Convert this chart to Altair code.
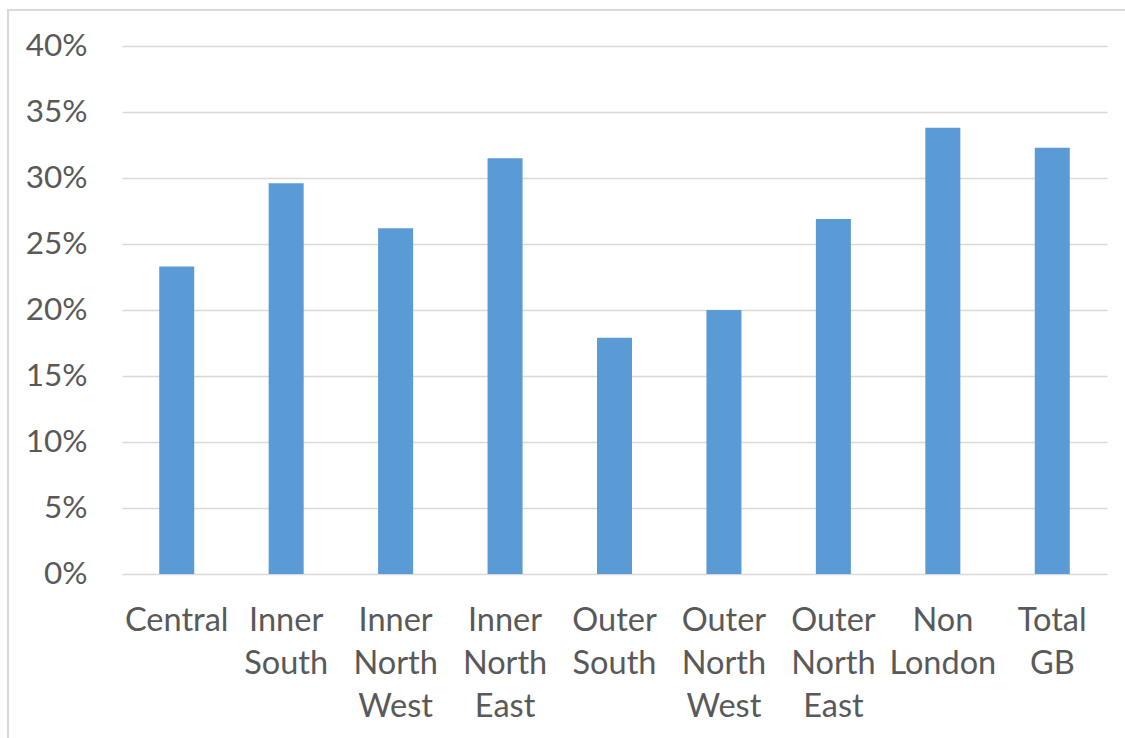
import altair as alt
import pandas as pd

# Share of trips by area
areas = ["Central", "Inner South", "Inner North West", "Inner North East",
         "Outer South", "Outer North West", "Outer North East", "Non London", "Total GB"]
shares = [0.233, 0.296, 0.262, 0.315, 0.179, 0.200, 0.269, 0.338, 0.323]
y_ticks = [0, 0.05, 0.10, 0.15, 0.20, 0.25, 0.30, 0.35, 0.40]

df = pd.DataFrame({"area": areas, "share": shares})

FONT = "Lato"
TEXT = "#595959"
GRID = "#d9d9d9"

# light outline around the whole chart area
frame = alt.Chart(df).mark_rect(
    filled=False, stroke=GRID, strokeWidth=2
).encode(
    x=alt.value(-114), x2=alt.value(1125),
    y=alt.value(-36), y2=alt.value(760)
)

bars = alt.Chart(df).mark_bar(color="#5b9bd5").encode(
    x=alt.X(
        "area:N", sort=areas, title=None,
        scale=alt.Scale(paddingInner=0.68, paddingOuter=0.34),
        axis=alt.Axis(
            labelAngle=0, ticks=False, domain=False,
            labelExpr="split(datum.label, ' ')",
            labelFont=FONT, labelFontSize=32.5, labelColor=TEXT,
            labelLineHeight=43, labelPadding=30, labelBaseline="top",
        ),
    ),
    y=alt.Y(
        "share:Q", title=None,
        scale=alt.Scale(domain=[0, 0.4], nice=False),
        axis=alt.Axis(
            values=y_ticks, format=".0%", ticks=False, domain=False,
            labelFont=FONT, labelFontSize=31.5, labelColor=TEXT,
            labelPadding=35, gridColor=GRID, gridWidth=1.6,
        ),
    ),
)

chart = (frame + bars).properties(
    width=985, height=528,
    padding={"left": 122, "top": 46, "right": 18, "bottom": 164},
    autosize=alt.AutoSizeParams(type="none"),
    background="white",
).configure_view(stroke=None)

chart.save("out.html", embed_options={"renderer": "svg", "actions": False})
